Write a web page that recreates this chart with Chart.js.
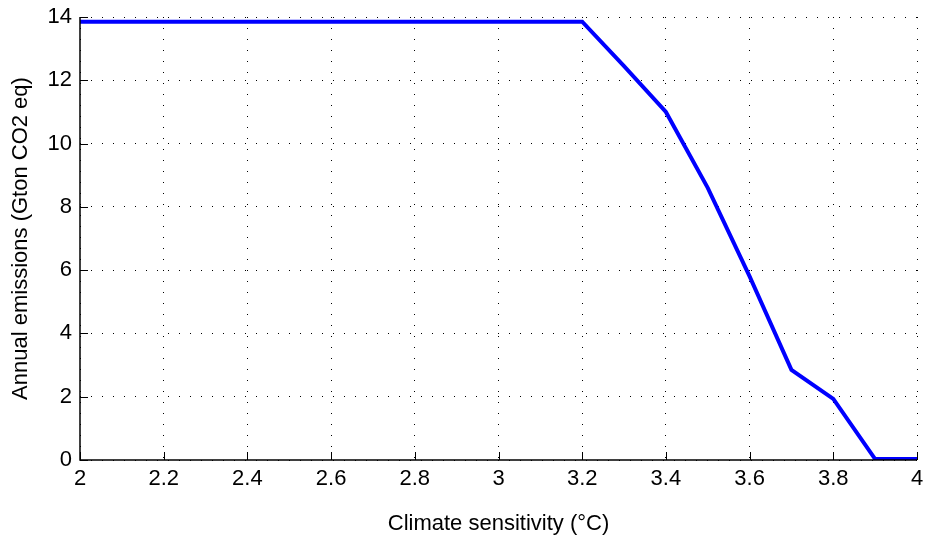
<!DOCTYPE html>
<html>
  <head>
    <script src="https://cdn.jsdelivr.net/npm/chart.js@4/dist/chart.umd.min.js"></script>
    <style>
      body { margin: 0; background: #fff; }
    </style>
  </head>
  <body>
    <div style="width: 927px; height: 541px; position: relative">
      <canvas id="canvas"></canvas>
    </div>
    <script>
      // climate sensitivity (deg C) vs allowed annual emissions
      const sensitivity = [2, 2.1, 2.2, 2.3, 2.4, 2.5, 2.6, 2.7, 2.8, 2.9, 3, 3.1, 3.2, 3.3, 3.4, 3.5, 3.6, 3.7, 3.8, 3.9, 4];
      const emissions = [13.85, 13.85, 13.85, 13.85, 13.85, 13.85, 13.85, 13.85, 13.85, 13.85, 13.85, 13.85, 13.85, 12.45, 11.0, 8.6, 5.8, 2.85, 1.93, 0.03, 0.03];
      const xTicks = [2, 2.2, 2.4, 2.6, 2.8, 3, 3.2, 3.4, 3.6, 3.8, 4];
      const yTicks = [0, 2, 4, 6, 8, 10, 12, 14];

      const font = { family: "'Liberation Sans', Arial, sans-serif", size: 22 };

      // solid left/bottom axes with matlab-style inward tick marks
      const axesBox = {
        id: 'axesBox',
        afterDraw(chart) {
          const ctx = chart.ctx;
          const { left, right, bottom, top } = chart.chartArea;
          const xs = chart.scales.x, ys = chart.scales.y;
          ctx.save();
          ctx.strokeStyle = '#000';
          ctx.lineWidth = 1.5;
          ctx.beginPath();
          ctx.moveTo(left, top);
          ctx.lineTo(left, bottom);
          ctx.lineTo(right, bottom);
          ctx.stroke();
          ctx.lineWidth = 1;
          xTicks.forEach((v) => {
            const px = Math.round(xs.getPixelForValue(v)) + 0.5;
            ctx.beginPath();
            ctx.moveTo(px, bottom);
            ctx.lineTo(px, bottom - 8);
            ctx.stroke();
          });
          yTicks.forEach((v) => {
            const py = Math.round(ys.getPixelForValue(v)) + 0.5;
            ctx.beginPath();
            ctx.moveTo(left, py);
            ctx.lineTo(left + 8, py);
            ctx.stroke();
          });
          ctx.restore();
        },
      };

      new Chart(document.getElementById('canvas'), {
        type: 'scatter',
        data: {
          datasets: [
            {
              data: sensitivity.map((x, i) => ({ x: x, y: emissions[i] })),
              showLine: true,
              borderColor: '#0000ff',
              borderWidth: 4,
              pointRadius: 0,
              fill: false,
              tension: 0,
            },
          ],
        },
        options: {
          responsive: true,
          maintainAspectRatio: false,
          animation: false,
          layout: { padding: { top: 17, right: 10, left: 0, bottom: 0 } },
          plugins: { legend: { display: false }, tooltip: { enabled: false } },
          scales: {
            x: {
              type: 'linear',
              min: 2,
              max: 4,
              afterBuildTicks: (s) => { s.ticks = xTicks.map((v) => ({ value: v })); },
              afterFit: (s) => { s.height = 81; s.paddingRight = 0; s.paddingLeft = 0; },
              ticks: {
                color: '#000',
                font: font,
                padding: 6,
                maxRotation: 0,
                callback: (v) => String(Math.round(v * 10) / 10),
              },
              grid: { color: '#000', lineWidth: 1, tickLength: 0, drawTicks: false },
              border: { display: false, dash: [1, 10] },
              title: {
                display: true,
                text: 'Climate sensitivity (°C)',
                color: '#000',
                font: font,
                padding: { top: 6 },
              },
            },
            y: {
              min: 0,
              max: 14,
              afterBuildTicks: (s) => { s.ticks = yTicks.map((v) => ({ value: v })); },
              afterFit: (s) => { s.width = 80; s.paddingTop = 0; s.paddingBottom = 0; },
              ticks: { color: '#000', font: font, padding: 8 },
              grid: { color: '#000', lineWidth: 1, tickLength: 0, drawTicks: false },
              border: { display: false, dash: [1, 10] },
              title: {
                display: true,
                text: 'Annual emissions (Gton CO2 eq)',
                color: '#000',
                font: font,
                padding: { top: 8, bottom: 4 },
              },
            },
          },
        },
        plugins: [axesBox],
      });
    </script>
  </body>
</html>
